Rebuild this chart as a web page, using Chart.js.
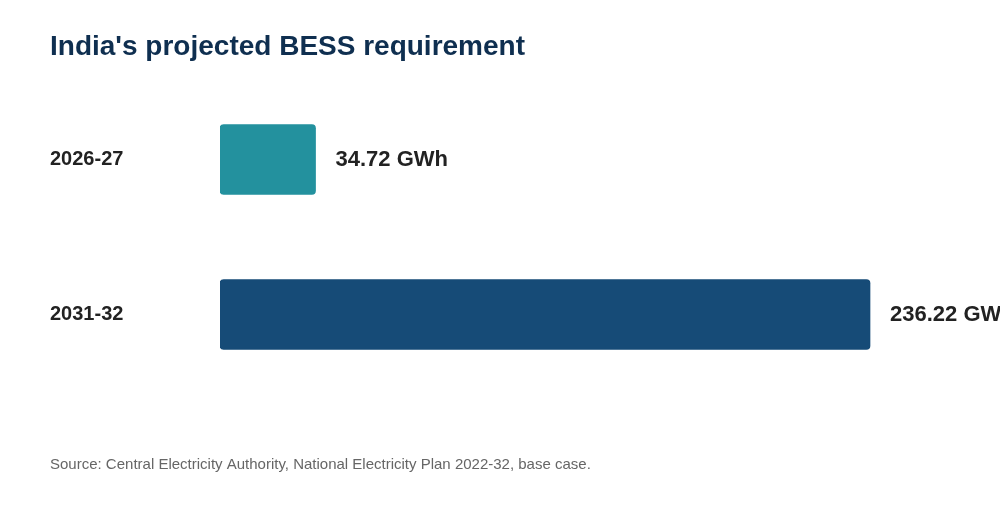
<!DOCTYPE html>
<html><head><meta charset="utf-8">
<script src="https://cdn.jsdelivr.net/npm/chart.js@4"></script>
<style>html,body{margin:0;padding:0;background:#fff;overflow:hidden}#w{width:1000px;height:520px;position:relative}</style>
</head><body><div id="w"><canvas id="c"></canvas></div>
<script>
const categories = ["2026-27", "2031-32"];
const values = [34.72, 236.22];
const valueLabels = ["34.72 GWh", "236.22 GWh"];
const colors = ["#23919e", "#164b77"];
const titleText = "India's projected BESS requirement";
const sourceText = "Source: Central Electricity Authority, National Electricity Plan 2022-32, base case.";
const FONT = "Liberation Sans, Arial, sans-serif";

const textPlugin = {
  id: "texts",
  afterDatasetsDraw(chart) {
    const ctx = chart.ctx;
    ctx.save();
    ctx.textBaseline = "middle";
    ctx.fillStyle = "#0f2f50";
    ctx.font = "bold 28px " + FONT;
    ctx.textAlign = "left";
    ctx.fillText(titleText, 50, 47);
    ctx.fillStyle = "#666";
    ctx.font = "15px " + FONT;
    ctx.fillText(sourceText, 50, 465);
    const meta = chart.getDatasetMeta(0);
    meta.data.forEach((bar, i) => {
      ctx.fillStyle = "#222";
      ctx.font = "bold 20px " + FONT;
      ctx.fillText(categories[i], 50, bar.y);
      ctx.font = "bold 22px " + FONT;
      ctx.fillText(valueLabels[i], bar.x + 20, bar.y);
    });
    ctx.restore();
  }
};

new Chart(document.getElementById("c"), {
  type: "bar",
  data: { labels: categories, datasets: [{ data: values, backgroundColor: colors, borderRadius: 4, borderSkipped: false, barThickness: 70 }] },
  options: {
    indexAxis: "y",
    responsive: true, maintainAspectRatio: false, animation: false,
    layout: { padding: { left: 220, right: 0, top: 82, bottom: 128 } },
    plugins: { legend: { display: false }, tooltip: { enabled: false } },
    scales: {
      x: { display: false, min: 0, max: 283.46 },
      y: { display: false }
    }
  },
  plugins: [textPlugin]
});
</script></body></html>
